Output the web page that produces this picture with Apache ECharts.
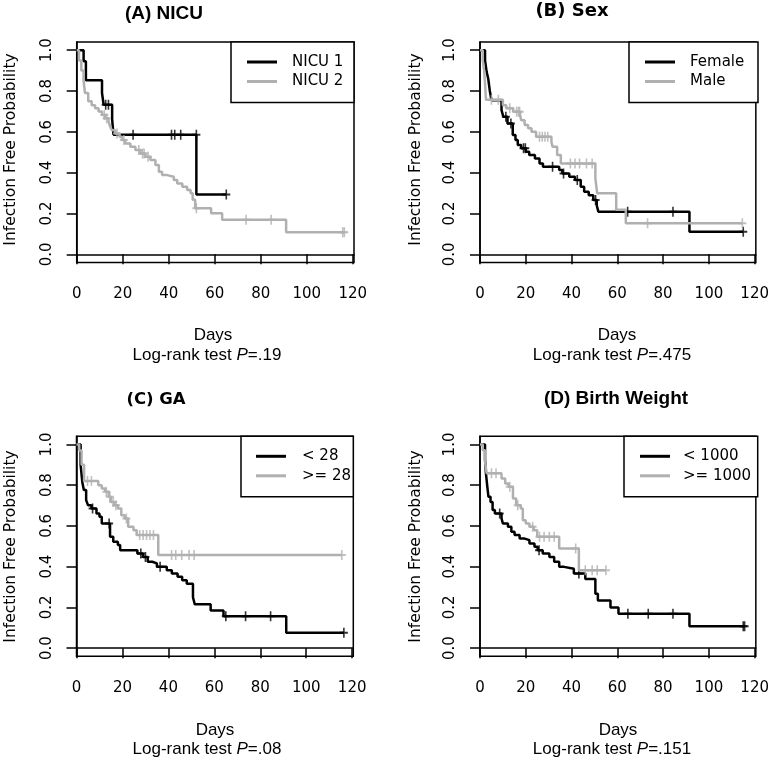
<!DOCTYPE html>
<html>
<head>
<meta charset="utf-8">
<script src="https://cdn.jsdelivr.net/npm/echarts@6.0.0/dist/echarts.min.js"></script>
<style>
html,body{margin:0;padding:0;background:#ffffff;}
#chart{width:772px;height:760px;}
</style>
</head>
<body>
<div id="chart"></div>
<script>
// ------------------------- DATA -------------------------
const xTicks = [0, 20, 40, 60, 80, 100, 120];
const yTicks = [0, 0.2, 0.4, 0.6, 0.8, 1.0];
const panelTitles = ['(A) NICU', '(B) Sex', '(C) GA', '(D) Birth Weight'];
const groupNames = [['NICU 1', 'NICU 2'], ['Female', 'Male'], ['< 28', '>= 28'], ['< 1000', '>= 1000']];
const pValues = ['.19', '.475', '.08', '.151'];
const xTitle = 'Days';
const yTitle = 'Infection Free Probability';
const testLabel = 'Log-rank test ';

// Kaplan-Meier steps: [day, survival after the event]
const nicu1Steps = [[0,1],[3,0.946],[4,0.853],[11,0.79],[11.7,0.733],[15.4,0.66],[16,0.586],[52,0.293]];
const nicu1Censor = [[12.6,0.733],[13.8,0.733],[24.5,0.586],[41.2,0.586],[42.6,0.586],[45.2,0.586],[52,0.586],[65,0.293]];
const nicu2Steps = [[0,1],[1,0.95],[2,0.9],[3,0.85],[3.6,0.79],[5,0.75],[6.5,0.73],[8,0.715],[9.5,0.7],[11,0.682],[12.4,0.666],[13.8,0.65],[14.6,0.625],[15.3,0.608],[16.7,0.592],[18.6,0.576],[19.7,0.56],[21.1,0.543],[23.3,0.527],[25.5,0.511],[27.7,0.494],[29.8,0.478],[32,0.462],[34.2,0.437],[35.7,0.405],[37.1,0.388],[39.3,0.38],[42.2,0.364],[43.7,0.347],[45.9,0.331],[48,0.315],[49.5,0.299],[50.4,0.267],[51.5,0.226],[58.4,0.201],[63.2,0.169],[91,0.108]];
const nicu2Censor = [[12,0.682],[13,0.666],[17.5,0.592],[20.5,0.56],[27,0.511],[28.6,0.494],[29.3,0.494],[31,0.478],[52,0.226],[73.6,0.169],[84.5,0.169],[115.6,0.108],[116.3,0.108]];

const femaleSteps = [[0,1],[2.2,0.95],[2.9,0.894],[3.6,0.86],[4.3,0.8],[5,0.755],[9.4,0.706],[10.2,0.674],[12,0.641],[14.3,0.584],[15.5,0.56],[16.5,0.535],[18,0.519],[20,0.502],[21.5,0.486],[24,0.47],[26,0.445],[27.5,0.429],[34.6,0.413],[36,0.396],[39,0.38],[41.5,0.364],[44,0.331],[45.5,0.307],[47.5,0.29],[49.5,0.266],[51,0.24],[51.7,0.209],[91.5,0.111]];
const femaleCensor = [[11.3,0.674],[13.5,0.641],[19,0.519],[19.8,0.519],[31.7,0.429],[36.5,0.396],[42.5,0.364],[50.5,0.266],[64.5,0.209],[84.3,0.209],[115,0.111]];
const maleSteps = [[0,1],[1.2,0.95],[1.8,0.9],[2.2,0.837],[2.6,0.757],[10,0.73],[11.5,0.715],[14.5,0.698],[17.5,0.682],[18,0.657],[19.5,0.633],[21,0.617],[22.5,0.6],[24.5,0.576],[31.2,0.55],[31.7,0.527],[33.7,0.486],[35.3,0.445],[50.4,0.372],[51.2,0.299],[59.5,0.218],[63.7,0.152]];
const maleCensor = [[5,0.757],[8,0.757],[13,0.715],[16,0.698],[16.8,0.698],[17.3,0.698],[26,0.576],[27.2,0.576],[28.4,0.576],[29.6,0.576],[39.5,0.445],[41.5,0.445],[43.5,0.445],[46.5,0.445],[49,0.445],[73.2,0.152],[114.6,0.152]];

const ga28Steps = [[0,1],[1.8,0.9],[2.5,0.817],[3.2,0.776],[4.2,0.727],[5,0.702],[6.5,0.686],[8.7,0.661],[10,0.645],[11,0.612],[14.6,0.547],[16,0.522],[18,0.506],[19,0.481],[26.5,0.465],[29,0.448],[31,0.424],[33,0.416],[35,0.399],[39.3,0.383],[41.5,0.367],[44,0.35],[46,0.333],[48,0.316],[50.7,0.25],[51.5,0.215],[58.4,0.185],[64,0.156],[91.3,0.075]];
const ga28Censor = [[7,0.686],[14.2,0.612],[28,0.465],[30,0.448],[36.4,0.399],[65,0.156],[73.6,0.156],[84.5,0.156],[116.4,0.075]];
const gaOver28Steps = [[0,1],[1.2,0.97],[2.2,0.9],[3.3,0.82],[9.5,0.8],[11,0.784],[12.5,0.768],[14,0.743],[15,0.718],[16.5,0.702],[18,0.686],[19.5,0.653],[21,0.637],[22.5,0.596],[24.8,0.579],[26.2,0.555],[35.6,0.457]];
const gaOver28Censor = [[4.8,0.82],[6.5,0.82],[13,0.768],[14.5,0.743],[16,0.718],[17.2,0.702],[21.7,0.637],[27.5,0.555],[29,0.555],[30.5,0.555],[32,0.555],[33.5,0.555],[41.4,0.457],[43.2,0.457],[45.8,0.457],[49,0.457],[51.2,0.457],[115.5,0.457]];

const bw1000Steps = [[0,1],[2.2,0.927],[2.6,0.858],[3.2,0.792],[3.7,0.743],[4.6,0.718],[5.5,0.678],[6.5,0.661],[9.4,0.637],[10,0.612],[12.2,0.596],[13.7,0.571],[15.1,0.555],[17.3,0.538],[19.5,0.53],[21.6,0.514],[23.8,0.498],[25.2,0.481],[27.4,0.465],[30.3,0.448],[32.4,0.424],[34.6,0.399],[36.7,0.39],[41,0.366],[46,0.34],[50.4,0.267],[51.5,0.234],[57,0.2],[60.5,0.169],[91.5,0.107]];
const bw1000Censor = [[8.6,0.661],[25.8,0.481],[43.2,0.366],[64.6,0.169],[73.5,0.169],[84.3,0.169],[115,0.107],[115.6,0.107]];
const bwOver1000Steps = [[0,1],[1.2,0.972],[2.2,0.915],[2.9,0.858],[9.4,0.833],[11,0.808],[12.5,0.792],[14.4,0.735],[15.8,0.702],[17.8,0.686],[18.7,0.628],[20,0.612],[21.6,0.596],[23.5,0.579],[25,0.547],[34.6,0.489],[43.2,0.382]];
const bwOver1000Censor = [[5,0.858],[7,0.858],[13,0.792],[16.5,0.702],[23,0.596],[26,0.547],[28,0.547],[30.3,0.547],[32.4,0.547],[41.8,0.489],[46,0.382],[49,0.382],[51.2,0.382],[55,0.382]];

const panelSteps = [[nicu1Steps, nicu2Steps], [femaleSteps, maleSteps], [ga28Steps, gaOver28Steps], [bw1000Steps, bwOver1000Steps]];
const panelCensors = [[nicu1Censor, nicu2Censor], [femaleCensor, maleCensor], [ga28Censor, gaOver28Censor], [bw1000Censor, bwOver1000Censor]];

// ------------------------- LAYOUT / STYLE -------------------------
const layouts = [
  {grid:{left:76.7, top:42, width:277.3, height:220.5}, titlePos:[164,14], titleFont:'bold 19px "Liberation Sans", Arial, sans-serif', yNamePos:[10.5,149.5], daysPos:[213,335.5], lrPos:[207,355], legend:{iconLeft:247, textLeft:292, left:231, right:354}},
  {grid:{left:480, top:42, width:278, height:220.5}, titlePos:[572,11.5], titleFont:'bold 18px "DejaVu Sans", sans-serif', yNamePos:[416,149.5], daysPos:[617,335.5], lrPos:[612,355], legend:{iconLeft:645, textLeft:690, left:629, right:758}},
  {grid:{left:76.5, top:436.3, width:276.8, height:220}, titlePos:[156,399.5], titleFont:'bold 16.5px "DejaVu Sans", sans-serif', yNamePos:[10.5,546.5], daysPos:[215,730], lrPos:[207,749], legend:{iconLeft:256, textLeft:302, left:241, right:353.3}},
  {grid:{left:480, top:436.3, width:277.7, height:220}, titlePos:[616,399], titleFont:'bold 19px "Liberation Sans", Arial, sans-serif', yNamePos:[415.5,546.5], daysPos:[618,730], lrPos:[612,749], legend:{iconLeft:640, textLeft:683, left:624, right:757.7}}
];
const colors = ['#000000', '#b0b0b0'];
const tickFont = '"DejaVu Sans", sans-serif';
const legendFontSize = 15;
const PLUS = 'path://M4,0H6V4H10V6H6V10H4V6H0V4H4Z';

const measureCtx = document.createElement('canvas').getContext('2d');
function textWidth(t, font) { measureCtx.font = font; return measureCtx.measureText(t).width; }

const grids = [], xAxes = [], yAxes = [], series = [], legends = [], graphics = [];

layouts.forEach(function (L, i) {
  grids.push(Object.assign({show:true, borderColor:'#000', borderWidth:1.5, backgroundColor:'transparent', containLabel:false}, L.grid));
  xAxes.push({
    gridIndex:i, type:'value', min:0, max:120.5, offset:3,
    axisLine:{show:true, lineStyle:{color:'#000', width:1.5}},
    axisTick:{show:true, length:10, customValues:xTicks, lineStyle:{color:'#000', width:1.5}},
    axisLabel:{customValues:xTicks, margin:21, color:'#000', fontFamily:tickFont, fontSize:15},
    splitLine:{show:false}
  });
  yAxes.push({
    gridIndex:i, type:'value', min:-0.04, max:1.04,
    axisLine:{show:true, lineStyle:{color:'#000', width:1.5}},
    axisTick:{show:true, length:10, customValues:yTicks, lineStyle:{color:'#000', width:1.5}},
    axisLabel:{customValues:yTicks, rotate:90, margin:22, color:'#000', fontFamily:tickFont, fontSize:15,
      formatter:function (v) { return v.toFixed(1); }},
    splitLine:{show:false}
  });
  for (let k = 0; k < 2; k++) {
    const steps = panelSteps[i][k];
    const cens = panelCensors[i][k];
    const last = steps[steps.length - 1];
    let end = last[0];
    cens.forEach(function (c) { if (c[0] > end) end = c[0]; });
    series.push({
      name: groupNames[i][k], type:'line', xAxisIndex:i, yAxisIndex:i,
      step:'end', symbol:'none', showSymbol:false, animation:false,
      data: steps.concat([[end, last[1]]]),
      lineStyle:{color:colors[k], width:2.5}, itemStyle:{color:colors[k]}, z:2 + k
    });
    series.push({
      name: groupNames[i][k] + ' (censored)', type:'scatter', xAxisIndex:i, yAxisIndex:i,
      data: cens, symbol: PLUS, symbolSize:[8,10], animation:false, silent:true,
      itemStyle:{color:colors[k]}, z:2 + k
    });
  }
  const lf = legendFontSize + 'px "DejaVu Sans"';
  const tw = Math.max(textWidth(groupNames[i][0], lf), textWidth(groupNames[i][1], lf));
  const lg = L.legend;
  const textPad = lg.textLeft - lg.iconLeft - 30 - 5;
  const padRight = Math.max(0, lg.right - (lg.textLeft + tw));
  legends.push({
    orient:'vertical', left:lg.left, top:L.grid.top,
    padding:[12.5, padRight, 13.5, lg.iconLeft - lg.left],
    itemWidth:30, itemHeight:3, itemGap:4.5, icon:'rect',
    borderColor:'#000', borderWidth:1.5, borderRadius:0, backgroundColor:'#ffffff',
    selectedMode:false, data: groupNames[i].slice(),
    textStyle:{fontFamily:'"DejaVu Sans", sans-serif', fontSize:legendFontSize, color:'#000', lineHeight:15, padding:[0,0,0,textPad]}
  });
  graphics.push({type:'text', x:L.titlePos[0], y:L.titlePos[1], silent:true,
    style:{text:panelTitles[i], font:L.titleFont, fill:'#000', align:'center', verticalAlign:'middle'}});
  graphics.push({type:'text', x:L.yNamePos[0], y:L.yNamePos[1], rotation:Math.PI/2, silent:true,
    style:{text:yTitle, font:'15.5px "DejaVu Sans", sans-serif', fill:'#000', align:'center', verticalAlign:'middle'}});
  graphics.push({type:'text', x:L.daysPos[0], y:L.daysPos[1], silent:true,
    style:{text:xTitle, font:'17px "Liberation Sans", Arial, sans-serif', fill:'#000', align:'center', verticalAlign:'middle'}});
  graphics.push({type:'text', x:L.lrPos[0], y:L.lrPos[1], silent:true,
    style:{text:'{n|' + testLabel + '}{it|P}{n|=' + pValues[i] + '}', align:'center', verticalAlign:'middle', fill:'#000',
      rich:{n:{font:'17px "Liberation Sans", Arial, sans-serif', fill:'#000'}, it:{font:'italic 17px "Liberation Sans", Arial, sans-serif', fill:'#000'}}}});
});

const chart = echarts.init(document.getElementById('chart'), null, {renderer:'canvas'});
chart.setOption({
  backgroundColor:'#ffffff',
  animation:false,
  grid:grids, xAxis:xAxes, yAxis:yAxes, series:series, legend:legends, graphic:graphics
});
</script>
</body>
</html>
